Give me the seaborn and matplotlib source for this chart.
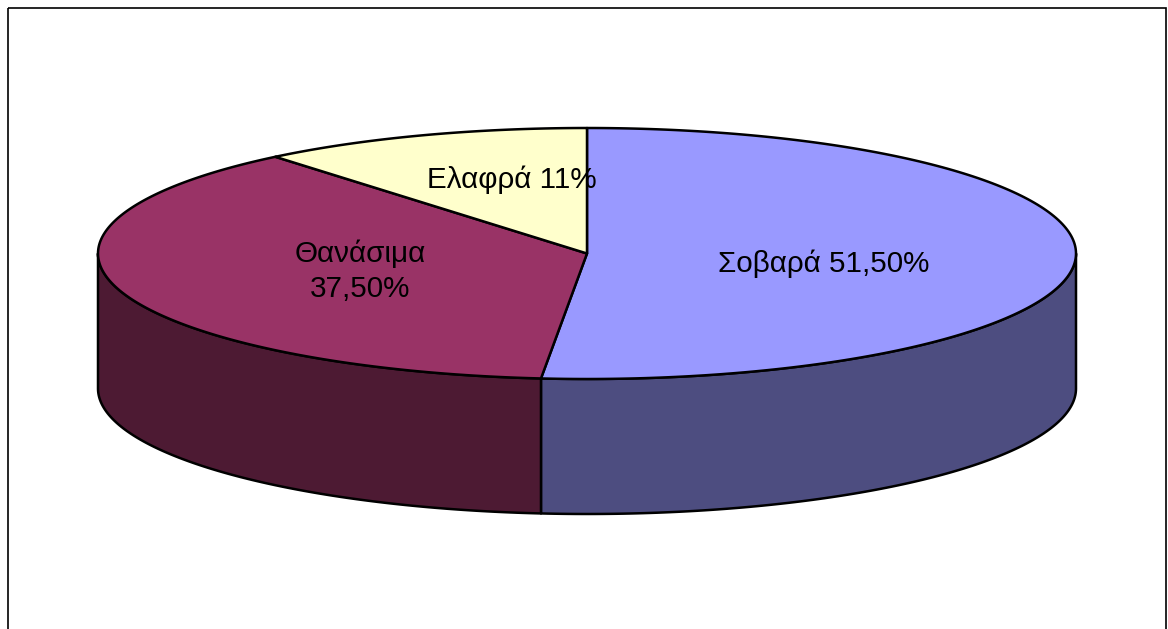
import numpy as np
import matplotlib
matplotlib.use("Agg")
import matplotlib.pyplot as plt
from matplotlib.patches import Polygon, Rectangle
import seaborn as sns

# data
categories = ["Σοβαρά", "Θανάσιμα", "Ελαφρά"]
values = [51.5, 37.5, 11.0]
pct_labels = ["51,50%", "37,50%", "11%"]
top_colors = ["#9999FF", "#993366", "#FFFFCC"]
side_colors = ["#4D4D80", "#4D1A33", "#808066"]

sns.set_style("white")
plt.rcParams["font.family"] = ["Liberation Sans", "DejaVu Sans"]

W, H = 1168, 629
fig = plt.figure(figsize=(W / 100, H / 100), dpi=100)
ax = fig.add_axes([0, 0, 1, 1])
ax.set_xlim(0, W)
ax.set_ylim(H, 0)
ax.axis("off")

# pie geometry (screen pixels, y down)
cx, cy, a, b, depth = 587, 253.5, 489, 125.5, 135
edge = dict(edgecolor="black", linewidth=1.8, joinstyle="round")


def pt(theta, dy=0.0):
    t = np.radians(theta)
    return cx + a * np.sin(t), cy - b * np.cos(t) + dy


fracs = np.array(values) / np.sum(values)
bounds = np.concatenate([[0], np.cumsum(fracs) * 360])

# front side walls (visible from 90 to 270 degrees clockwise from top)
for i in range(len(values)):
    t1, t2 = max(bounds[i], 90), min(bounds[i + 1], 270)
    if t2 <= t1:
        continue
    ts = np.linspace(t1, t2, 120)
    upper = np.array([pt(t) for t in ts])
    lower = np.array([pt(t, depth) for t in ts[::-1]])
    ax.add_patch(Polygon(np.vstack([upper, lower]), closed=True,
                         facecolor=side_colors[i], **edge))

# top faces
for i in range(len(values)):
    ts = np.linspace(bounds[i], bounds[i + 1], 200)
    arc = np.array([pt(t) for t in ts])
    ax.add_patch(Polygon(np.vstack([[cx, cy], arc]), closed=True,
                         facecolor=top_colors[i], **edge))

# labels
label_lines = [
    [f"{categories[0]} {pct_labels[0]}"],
    [categories[1], pct_labels[1]],
    [f"{categories[2]} {pct_labels[2]}"],
]
label_pos = [(824, [272]), (360, [262, 297]), (512, [188])]
for lines, (x, ys) in zip(label_lines, label_pos):
    for line, y in zip(lines, ys):
        ax.text(x, y, line, ha="center", va="baseline", fontsize=21.3,
                color="black")

# chart frame
ax.add_patch(Rectangle((7.5, 7.5), 1158, 700, fill=False,
                       edgecolor="black", linewidth=1.2, clip_on=True))

fig.savefig("out.png", dpi=100, facecolor="white")
